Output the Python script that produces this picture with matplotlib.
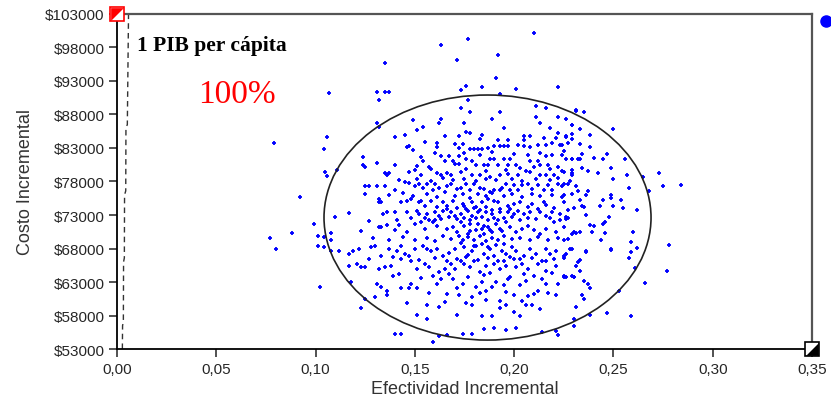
import matplotlib
matplotlib.use("Agg")
import matplotlib.pyplot as plt
from matplotlib.patches import Ellipse

# --- datos (efectividad incremental, costo incremental en miles de $) ---
atipicos_izq = [(0.107,91.2),(0.079,83.7),(0.106,84.6),(0.104,82.9),(0.105,79.4),(0.106,78.8),(0.111,79.7),
    (0.092,75.7),(0.110,72.7),(0.099,71.7),(0.088,70.3),(0.108,70.3),(0.077,69.6),(0.101,69.9),(0.104,69.7),
    (0.108,69.3),(0.080,67.9),(0.102,62.3),(0.117,73.3),(0.101,68.4),(0.104,68.2),(0.108,67.7),(0.112,67.7)]

atipicos_sup = [(0.135,95.7),(0.131,91.4),(0.135,91.4),(0.137,91.4),(0.132,90.2),(0.131,86.8),(0.132,86.2),
    (0.163,98.4),(0.177,99.3),(0.171,96.1),(0.192,96.9),(0.210,100.1),(0.191,93.5),(0.173,91.6),(0.176,92.3),
    (0.184,92.1),(0.201,91.8),(0.222,92.1),(0.193,91.0),(0.177,90.2),(0.231,88.6)]

lado_der = [(0.231,88.5),(0.235,88.3),(0.250,85.9),(0.256,81.4),(0.273,79.3),(0.275,77.3),(0.284,77.5),
    (0.268,76.6),(0.265,78.6),(0.262,73.8),(0.278,68.5),(0.277,64.7),(0.266,62.9),(0.253,61.6),(0.259,57.9),
    (0.247,58.3),(0.262,68.1),(0.261,65.1),(0.258,77.0),(0.257,78.9),(0.260,70.5),(0.259,69.0),(0.259,67.5),
    (0.258,66.6),(0.249,67.9),(0.248,72.7),(0.255,74.0),(0.254,75.3),(0.250,78.3),(0.249,80.0),(0.247,82.1),
    (0.245,81.4),(0.242,79.3),(0.238,84.9),(0.238,83.1),(0.240,81.5),(0.229,86.5),(0.226,84.7),(0.229,84.3),
    (0.245,75.2),(0.243,74.4),(0.249,76.0),(0.249,75.5),(0.250,74.3),(0.245,71.7),(0.246,71.9),(0.246,70.3),
    (0.244,69.2),(0.239,70.4),(0.238,71.5),(0.240,71.4),(0.236,67.7),(0.237,62.7),(0.238,62.1),(0.234,61.1),
    (0.235,60.4),(0.231,59.2),(0.238,58.1),(0.230,57.5),(0.232,66.0),(0.231,65.4),(0.233,64.7),(0.225,63.7),
    (0.230,63.7),(0.235,63.2),(0.225,66.6),(0.228,68.0),(0.226,67.2),(0.236,67.5),(0.233,66.3),(0.231,70.3),
    (0.229,70.1),(0.233,70.4),(0.227,69.4),(0.225,69.2),(0.236,73.0),(0.235,74.2),(0.234,74.3),(0.226,72.4),
    (0.227,72.6),(0.233,75.2),(0.237,76.6),(0.236,76.0),(0.232,76.6),(0.225,76.0),(0.228,78.1),(0.225,77.6),
    (0.229,79.7),(0.229,79.3),(0.234,80.0),(0.237,79.6),(0.229,81.3),(0.233,81.3),(0.234,82.1),(0.224,83.5),
    (0.224,82.0),(0.249,67.8)]

nube_alta = [(0.173,88.9),(0.178,88.3),(0.193,88.3),(0.189,87.4),(0.163,87.4),(0.162,86.7),(0.175,86.8),
    (0.149,87.2),(0.211,89.2),(0.216,88.9),(0.211,87.7),(0.213,86.8),(0.222,87.6),(0.226,87.3),(0.229,86.4),
    (0.151,85.7),(0.154,86.2),(0.140,84.6),(0.145,84.9),(0.165,84.8),(0.172,84.8),(0.176,85.4),(0.178,85.2),
    (0.184,84.9),(0.183,84.3),(0.195,86.0),(0.192,84.2),(0.197,84.2),(0.205,84.8),(0.208,84.8),(0.205,84.2),
    (0.215,84.5),(0.218,86.0),(0.222,85.2),(0.226,84.8),(0.221,84.5),(0.229,85.1),(0.233,85.8),
    (0.155,83.9),(0.146,83.1),(0.147,83.3),(0.161,83.8),(0.161,83.2),(0.170,83.6),(0.174,83.6),(0.172,83.0),
    (0.178,82.8),(0.180,82.9),(0.182,82.8),(0.184,82.9),(0.187,83.0),(0.190,83.3),(0.193,83.3),(0.195,83.3),
    (0.197,83.3),(0.202,83.5),(0.205,83.3),(0.208,83.2),(0.212,83.5),(0.216,83.5),(0.219,83.8),(0.223,83.5),
    (0.227,83.8),(0.233,83.6),
    (0.149,82.7),(0.124,81.6),(0.125,80.1),(0.124,80.5),(0.131,80.8),(0.140,80.4),(0.151,80.3),(0.154,81.1),
    (0.153,81.6),(0.157,80.1),(0.163,81.8),(0.165,81.0),(0.167,81.8),(0.169,81.0),(0.170,80.6),(0.172,80.6),
    (0.172,81.8),(0.176,81.4),(0.179,81.0),(0.181,80.4),(0.183,81.9),(0.185,80.5),(0.187,80.4),(0.188,81.3),
    (0.190,81.4),(0.192,80.4),(0.195,81.4),(0.197,80.4),(0.198,81.4),(0.201,80.4),(0.203,80.0),(0.207,82.0),
    (0.208,81.0),(0.210,80.1),(0.212,81.0),(0.213,80.4),(0.216,81.8),(0.217,80.5),(0.219,82.0),(0.222,80.2),
    (0.224,79.5),(0.226,81.4),(0.229,81.4),(0.232,81.4),
    (0.135,79.3),(0.137,79.3),(0.136,78.9),(0.147,79.4),(0.153,78.9),(0.161,79.3),(0.163,78.9),(0.166,79.3),
    (0.168,78.9),(0.173,79.4),(0.179,78.9),(0.183,78.9),(0.188,78.6),(0.193,78.9),(0.197,79.1),(0.202,78.9),
    (0.208,79.4),(0.213,78.9),(0.216,79.0),(0.220,78.9),(0.225,79.4),(0.229,78.9)]

nube_media = [(0.125,77.4),(0.127,77.4),(0.125,76.2),(0.131,77.4),(0.135,77.4),(0.140,76.7),(0.145,77.9),
    (0.147,77.8),(0.150,77.4),(0.152,77.6),(0.154,77.1),(0.156,77.6),(0.159,76.8),(0.160,77.6),(0.162,77.1),
    (0.166,77.4),(0.168,77.6),(0.171,76.9),(0.173,77.1),(0.176,77.6),(0.178,76.8),(0.180,77.6),(0.183,77.1),
    (0.185,76.9),(0.188,76.5),(0.190,76.7),(0.193,76.7),(0.194,77.1),(0.196,77.6),(0.198,76.8),(0.200,77.5),
    (0.202,76.8),(0.204,77.5),(0.207,77.6),(0.209,76.9),(0.212,77.5),(0.215,76.8),(0.217,77.5),(0.219,76.8),
    (0.222,77.6),(0.224,77.4),(0.227,77.6),(0.231,77.4),
    (0.132,75.4),(0.132,74.9),(0.133,74.9),(0.143,75.0),(0.146,75.1),(0.148,75.4),(0.152,74.9),(0.153,75.1),
    (0.155,74.4),(0.158,75.1),(0.161,74.2),(0.164,74.9),(0.166,74.3),(0.169,75.1),(0.174,74.6),(0.175,74.4),
    (0.179,74.9),(0.181,74.2),(0.184,74.9),(0.187,75.4),(0.190,75.1),(0.192,74.9),(0.193,73.9),(0.197,74.4),
    (0.200,74.6),(0.203,74.9),(0.207,74.2),(0.209,74.6),(0.212,73.9),(0.215,74.9),(0.216,74.5),(0.220,74.0),
    (0.225,74.9),(0.227,73.7),(0.230,74.0),
    (0.136,73.4),(0.134,73.2),(0.140,73.4),(0.146,73.4),(0.151,73.6),(0.152,73.2),(0.156,73.2),(0.160,73.5),
    (0.162,72.9),(0.164,73.6),(0.168,73.4),(0.170,72.9),(0.173,73.2),(0.177,73.6),(0.179,72.9),(0.182,73.5),
    (0.186,73.4),(0.189,73.2),(0.193,73.4),(0.197,73.5),(0.200,73.2),(0.202,73.6),(0.205,73.2),(0.208,73.4),
    (0.213,73.4),(0.216,72.9),(0.219,73.4),(0.223,73.2),(0.226,72.7),
    (0.123,70.6),(0.127,72.1),(0.132,71.2),(0.133,71.2),(0.136,71.5),(0.140,70.7),(0.142,71.5),(0.146,70.4),
    (0.150,71.6),(0.153,72.0),(0.155,70.9),(0.157,72.2),(0.159,71.9),(0.161,71.4),(0.163,72.4),(0.166,70.9),
    (0.169,71.2),(0.171,70.4),(0.172,69.9),(0.173,71.9),(0.175,71.4),(0.177,70.2),(0.178,71.7),(0.181,70.7),
    (0.184,70.9),(0.185,70.2),(0.187,71.2),(0.189,70.4),(0.193,70.9),(0.196,71.9),(0.198,71.2),(0.201,70.4),
    (0.204,70.9),(0.207,71.4),(0.210,70.7),(0.213,70.2),(0.216,70.9),(0.220,71.9),(0.221,70.4),(0.225,71.2),
    (0.230,70.4)]

nube_baja = [(0.117,67.2),(0.119,67.7),(0.122,67.9),(0.128,68.2),(0.130,68.4),(0.133,66.9),(0.137,67.9),
    (0.141,67.7),(0.143,68.4),(0.145,67.2),(0.147,66.9),(0.150,68.0),(0.154,68.3),(0.156,68.0),(0.158,67.7),
    (0.161,67.9),(0.164,66.9),(0.167,67.3),(0.170,67.9),(0.173,68.8),(0.175,68.2),(0.177,67.0),(0.179,67.7),
    (0.181,68.4),(0.185,67.2),(0.188,67.9),(0.190,66.9),(0.194,67.7),(0.196,67.2),(0.199,68.2),(0.201,67.7),
    (0.205,66.9),(0.208,67.9),(0.211,67.2),(0.216,67.9),(0.218,67.2),(0.221,67.7),(0.225,66.9),(0.229,67.9),
    (0.117,65.4),(0.121,65.7),(0.123,65.2),(0.125,65.2),(0.132,64.9),(0.135,65.2),(0.138,65.4),(0.139,63.9),
    (0.143,66.5),(0.148,66.2),(0.151,64.9),(0.155,65.7),(0.157,65.2),(0.159,63.9),(0.162,64.5),(0.165,64.9),
    (0.168,65.7),(0.170,64.9),(0.173,66.2),(0.175,65.7),(0.178,65.2),(0.180,66.2),(0.183,64.5),(0.185,64.0),
    (0.186,65.4),(0.190,65.7),(0.193,64.9),(0.195,66.2),(0.196,65.4),(0.200,66.4),(0.201,65.2),(0.204,65.7),
    (0.207,64.9),(0.210,63.9),(0.212,65.7),(0.216,66.2),(0.216,64.7),(0.221,65.4),(0.225,63.9),(0.229,63.9),
    (0.118,63.0),(0.131,62.7),(0.133,62.2),(0.136,61.7),(0.136,61.1),(0.130,60.7),(0.143,62.1),(0.147,62.1),
    (0.148,62.7),(0.151,62.1),(0.161,62.7),(0.163,63.5),(0.166,61.2),(0.169,63.5),(0.171,62.1),(0.174,62.7),
    (0.179,60.7),(0.181,62.2),(0.184,63.0),(0.186,61.7),(0.189,62.2),(0.191,63.0),(0.193,60.2),(0.195,62.5),
    (0.197,63.5),(0.200,61.0),(0.203,62.5),(0.206,63.2),(0.210,61.2),(0.212,61.7),(0.214,63.5),(0.216,62.7),
    (0.221,61.0),(0.222,62.7),(0.226,63.7),(0.230,63.7),(0.125,60.5),
    (0.123,59.1),(0.156,59.6),(0.151,58.1),(0.156,57.5),(0.162,59.2),(0.171,58.1),(0.179,59.6),(0.184,58.0),
    (0.189,58.0),(0.193,59.1),(0.190,56.2),(0.196,59.6),(0.200,58.5),(0.203,58.0),(0.206,59.6),(0.209,59.5),
    (0.213,59.0),(0.201,56.2),(0.221,55.7),(0.230,56.5),(0.143,55.3),(0.166,55.1),(0.179,55.3),(0.140,55.2),
    (0.162,55.0),(0.159,54.1),(0.174,55.2),(0.185,56.0),(0.196,55.9),(0.214,55.6),(0.222,55.1)]

nube_centro = [(0.142,78.2),(0.151,78.4),(0.158,78.1),(0.164,78.5),(0.169,78.2),(0.175,78.3),(0.181,78.1),
    (0.186,78.4),(0.191,78.2),(0.199,78.3),(0.204,78.1),(0.211,78.4),(0.218,78.2),(0.222,78.5),
    (0.137,76.0),(0.144,76.3),(0.149,75.8),(0.156,76.1),(0.161,75.7),(0.165,76.4),(0.170,75.9),(0.174,76.2),
    (0.178,75.6),(0.182,76.1),(0.186,75.8),(0.189,76.3),(0.195,75.9),(0.199,76.1),(0.204,75.7),(0.209,76.2),
    (0.213,75.8),(0.219,76.0),(0.224,75.7),(0.229,76.2),
    (0.141,72.3),(0.148,72.6),(0.155,72.5),(0.160,72.2),(0.167,72.7),(0.171,72.4),(0.175,72.6),(0.178,72.2),
    (0.181,72.5),(0.184,72.7),(0.187,72.3),(0.190,72.6),(0.192,72.2),(0.195,72.5),(0.199,72.7),(0.203,72.3),
    (0.207,72.6),(0.211,72.4),(0.218,72.5),(0.223,72.2),
    (0.129,69.5),(0.137,69.2),(0.144,69.7),(0.150,69.3),(0.156,69.6),(0.160,69.1),(0.164,69.8),(0.168,69.4),
    (0.174,69.2),(0.177,69.7),(0.180,69.3),(0.183,69.8),(0.186,69.1),(0.189,69.5),(0.192,69.2),(0.195,69.8),
    (0.199,69.4),(0.203,69.6),(0.208,69.2),(0.212,69.7),(0.217,69.3),(0.222,69.6),
    (0.127,66.4),(0.139,66.7),(0.152,66.3),(0.160,66.6),(0.166,66.1),(0.171,66.5),(0.176,66.7),(0.182,66.3),
    (0.187,66.6),(0.192,66.2),(0.198,66.7),(0.203,66.4),(0.209,66.6),(0.214,66.1),(0.220,66.5),
    (0.142,64.2),(0.153,63.6),(0.167,64.2),(0.177,63.8),(0.188,64.3),(0.198,63.8),(0.205,64.2),(0.219,64.4),
    (0.157,61.4),(0.172,61.0),(0.183,61.3),(0.196,61.5),(0.207,60.9),(0.217,61.3),(0.165,60.0),(0.186,60.3),
    (0.204,60.1),(0.146,59.8),(0.176,59.9),
    (0.150,79.7),(0.158,79.8),(0.176,79.8),(0.186,79.6),(0.196,79.7),(0.206,79.6),(0.218,79.8),(0.160,82.3),
    (0.175,82.2),(0.189,82.4),(0.200,82.1),(0.213,82.3),(0.225,82.5),
    (0.176,73.9),(0.180,74.1),(0.183,73.8),(0.186,74.2),(0.189,73.8),(0.178,70.6),(0.182,71.6),(0.185,71.4),
    (0.188,70.7),(0.191,71.6),(0.194,70.6),(0.180,68.4),(0.184,68.6),(0.187,68.2),(0.191,68.5),(0.195,68.6),
    (0.171,74.0),(0.166,73.9),(0.198,73.9)]

# elipse de confianza
elipse_centro = (0.1866, 72620)
elipse_ancho = 0.1647
elipse_alto = 36570

# linea de 1 PIB per capita
pib_x = [0.0027, 0.0028, 0.0032, 0.0033, 0.0037, 0.0038, 0.0044, 0.0045, 0.0052, 0.0058]
pib_y = [53000, 56500, 57000, 66000, 66600, 76000, 76600, 86000, 86500, 103000]

x_ticks = [0.00, 0.05, 0.10, 0.15, 0.20, 0.25, 0.30, 0.35]
y_ticks = [53000, 58000, 63000, 68000, 73000, 78000, 83000, 88000, 93000, 98000, 103000]

puntos = atipicos_izq + atipicos_sup + lado_der + nube_alta + nube_media + nube_baja + nube_centro
efectividad = [p[0] for p in puntos]
costo = [p[1] * 1000 for p in puntos]

fig = plt.figure(figsize=(8.31, 4.06), dpi=100)
ax = fig.add_axes([0.1408, 0.1379, 0.8363, 0.8252])

ax.scatter(efectividad, costo, marker="+", s=10, linewidths=1.3, color="#0000ff", zorder=3)

ax.add_patch(Ellipse(elipse_centro, elipse_ancho, elipse_alto, fill=False,
                     edgecolor="#222222", linewidth=1.2, zorder=4))

ax.plot(pib_x, pib_y, linestyle=(0, (4, 3)), color="#333333", linewidth=1.0, zorder=2)

# marcadores de las esquinas
ax.plot([0.0], [103000], marker="s", markersize=10, mfc="white", mec="red", mew=1.2,
        clip_on=False, zorder=6)
ax.plot([0.0], [103000], marker=[(-1, -1), (-1, 1), (1, 1)], markersize=9, mfc="red", mec="red",
        mew=0.5, clip_on=False, zorder=7)
ax.plot([0.35], [53000], marker="s", markersize=10, mfc="white", mec="black", mew=1.2,
        clip_on=False, zorder=6)
ax.plot([0.35], [53000], marker=[(-1, -1), (1, -1), (1, 1)], markersize=9, mfc="black", mec="black",
        mew=0.5, clip_on=False, zorder=7)
ax.plot([0.357], [102000], marker="o", markersize=8, color="#0000ff", clip_on=False, zorder=6)

ax.text(0.0101, 98300, "1 PIB per cápita", fontsize=15.5, fontweight="bold",
        family="Liberation Serif", va="center", ha="left")
ax.text(0.0605, 91100, "100%", fontsize=24, color="red",
        family="Liberation Serif", va="center", ha="center")

ax.set_xlim(0, 0.35)
ax.set_ylim(53000, 103000)
ax.set_xticks(x_ticks)
ax.set_xticklabels([("%.2f" % v).replace(".", ",") for v in x_ticks])
ax.set_yticks(y_ticks)
ax.set_yticklabels(["$%d" % v for v in y_ticks])

for lab in ax.get_xticklabels() + ax.get_yticklabels():
    lab.set_family("Liberation Sans")
    lab.set_fontsize(11)
    lab.set_color("#262626")
ax.tick_params(direction="out", length=6, width=1.2, color="#333333", pad=3)

ax.set_xlabel("Efectividad Incremental", fontsize=13, family="Liberation Sans",
              color="#333333", labelpad=3)
ax.set_ylabel("Costo Incremental", fontsize=13, family="Liberation Sans",
              color="#333333", labelpad=8)

for s in ["left", "bottom"]:
    ax.spines[s].set_color("black")
    ax.spines[s].set_linewidth(1.3)
for s in ["top", "right"]:
    ax.spines[s].set_color("#555555")
    ax.spines[s].set_linewidth(1.6)

fig.savefig("out.png", dpi=100)
